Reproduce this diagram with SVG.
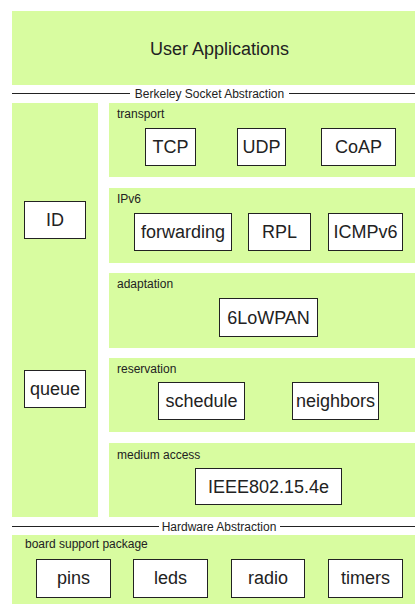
<svg xmlns="http://www.w3.org/2000/svg" width="415" height="604" viewBox="0 0 415 604">
  <style>
    .layer { fill: #d8fca0; stroke: none; }
    .box { fill: #ffffff; stroke: #222222; stroke-width: 1; }
    .name { font-family: "Liberation Sans", Arial, sans-serif; font-size: 18px; fill: #222222; text-anchor: middle; }
    .tag { font-family: "Liberation Sans", Arial, sans-serif; font-size: 12px; fill: #222222; }
    .sep { font-family: "Liberation Sans", Arial, sans-serif; font-size: 12px; fill: #222222; text-anchor: middle; }
    .rule { stroke: #222222; stroke-width: 1; fill: none; }
  </style>
  <rect width="415" height="604" fill="#ffffff"/>

  <!-- Layers -->
  <g id="user-applications">
    <rect class="layer" x="12" y="11" width="403" height="74"/>
    <text class="name" x="219.5" y="55">User Applications</text>
  </g>
  <g id="cross-layer">
    <rect class="layer" x="12" y="103" width="86" height="414"/>
  </g>
  <g id="transport">
    <rect class="layer" x="109" y="103" width="306" height="74"/>
    <text class="tag" x="117" y="118">transport</text>
  </g>
  <g id="ipv6">
    <rect class="layer" x="109" y="188" width="306" height="75"/>
    <text class="tag" x="117" y="203">IPv6</text>
  </g>
  <g id="adaptation">
    <rect class="layer" x="109" y="273" width="306" height="75"/>
    <text class="tag" x="117" y="288">adaptation</text>
  </g>
  <g id="reservation">
    <rect class="layer" x="109" y="358" width="306" height="74"/>
    <text class="tag" x="117" y="373">reservation</text>
  </g>
  <g id="medium-access">
    <rect class="layer" x="109" y="443" width="306" height="74"/>
    <text class="tag" x="117" y="459">medium access</text>
  </g>
  <g id="board-support-package">
    <rect class="layer" x="12" y="535" width="403" height="69"/>
    <text class="tag" x="25" y="548">board support package</text>
  </g>

  <!-- Abstraction boundaries -->
  <g id="boundaries">
    <line class="rule" x1="12" y1="93.5" x2="130" y2="93.5"/>
    <line class="rule" x1="289" y1="93.5" x2="415" y2="93.5"/>
    <text class="sep" x="209.5" y="97.5">Berkeley Socket Abstraction</text>
    <line class="rule" x1="12" y1="526.5" x2="159" y2="526.5"/>
    <line class="rule" x1="280" y1="526.5" x2="415" y2="526.5"/>
    <text class="sep" x="219" y="530.5">Hardware Abstraction</text>
  </g>

  <!-- Modules -->
  <g id="tcp"><rect class="box" x="145.5" y="128.5" width="50" height="37"/><text class="name" x="170.5" y="153">TCP</text></g>
  <g id="udp"><rect class="box" x="237.5" y="128.5" width="48" height="37"/><text class="name" x="261.5" y="153">UDP</text></g>
  <g id="coap"><rect class="box" x="321.5" y="128.5" width="74" height="37"/><text class="name" x="358.5" y="153">CoAP</text></g>

  <g id="id"><rect class="box" x="24.5" y="201.5" width="61" height="37"/><text class="name" x="55" y="226">ID</text></g>
  <g id="forwarding"><rect class="box" x="134.5" y="213.5" width="97" height="37"/><text class="name" x="183" y="238">forwarding</text></g>
  <g id="rpl"><rect class="box" x="248.5" y="213.5" width="62" height="37"/><text class="name" x="279.5" y="238">RPL</text></g>
  <g id="icmpv6"><rect class="box" x="328.5" y="213.5" width="74" height="37"/><text class="name" x="365.5" y="238">ICMPv6</text></g>

  <g id="sixlowpan"><rect class="box" x="219.5" y="298.5" width="98" height="38"/><text class="name" x="268.5" y="323.5">6LoWPAN</text></g>

  <g id="queue"><rect class="box" x="24.5" y="370.5" width="61" height="37"/><text class="name" x="55" y="395">queue</text></g>
  <g id="schedule"><rect class="box" x="158.5" y="382.5" width="86" height="37"/><text class="name" x="201.5" y="407">schedule</text></g>
  <g id="neighbors"><rect class="box" x="292.5" y="382.5" width="86" height="37"/><text class="name" x="335.5" y="407">neighbors</text></g>

  <g id="ieee802154e"><rect class="box" x="195.5" y="468.5" width="146" height="36"/><text class="name" x="268.5" y="492.5">IEEE802.15.4e</text></g>

  <g id="pins"><rect class="box" x="36.5" y="559.5" width="74" height="38"/><text class="name" x="73.5" y="584">pins</text></g>
  <g id="leds"><rect class="box" x="133.5" y="559.5" width="74" height="38"/><text class="name" x="170.5" y="584">leds</text></g>
  <g id="radio"><rect class="box" x="231.5" y="559.5" width="73" height="38"/><text class="name" x="268" y="584">radio</text></g>
  <g id="timers"><rect class="box" x="328.5" y="559.5" width="74" height="38"/><text class="name" x="365.5" y="584">timers</text></g>

  <!-- No connectors: layers are stacked directly -->
  <g id="connectors"/>
</svg>
